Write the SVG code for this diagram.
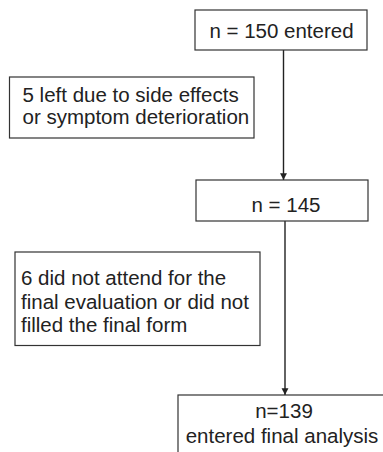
<svg xmlns="http://www.w3.org/2000/svg" width="383" height="452" viewBox="0 0 383 452">
<style>
.box{fill:#fff;stroke:#333;stroke-width:1.2}
.t{font-family:"Liberation Sans",Arial,sans-serif;font-size:20.5px;fill:#222}
.c{text-anchor:middle}
.edge{stroke:#222;stroke-width:1.4;fill:none;marker-end:url(#ah)}
</style>
<defs>
<marker id="ah" markerWidth="8" markerHeight="8" refX="6" refY="3.5" orient="auto" markerUnits="userSpaceOnUse" viewBox="0 0 7 7">
<path d="M0,0.5 L6,3.5 L0,6.5 Z" fill="#222"/>
</marker>
</defs>
<rect width="383" height="452" fill="#fff"/>
<g id="connectors">
<line class="edge" x1="283.5" y1="50" x2="283.5" y2="180"/>
<line class="edge" x1="285" y1="221" x2="285" y2="395"/>
</g>
<g id="n150">
<rect class="box" x="195" y="10" width="172" height="40"/>
<text class="t c" x="281.5" y="38">n = 150 entered</text>
</g>
<g id="left5">
<rect class="box" x="9.5" y="77" width="244.5" height="61"/>
<text class="t" x="22.5" y="101.5">5 left due to side effects</text>
<text class="t" x="22.5" y="123.5">or symptom deterioration</text>
</g>
<g id="n145">
<rect class="box" x="196" y="180" width="172" height="41"/>
<text class="t c" x="286" y="211.5">n = 145</text>
</g>
<g id="did6">
<rect class="box" x="15" y="252" width="245" height="93.5"/>
<text class="t" x="21" y="285">6 did not attend for the</text>
<text class="t" x="21" y="308.5">final evaluation or did not</text>
<text class="t" x="21" y="332">filled the final form</text>
</g>
<g id="n139">
<rect class="box" x="178" y="395" width="220" height="70"/>
<text class="t c" x="284" y="417.5">n=139</text>
<text class="t c" x="282" y="443">entered final analysis</text>
</g>
</svg>
